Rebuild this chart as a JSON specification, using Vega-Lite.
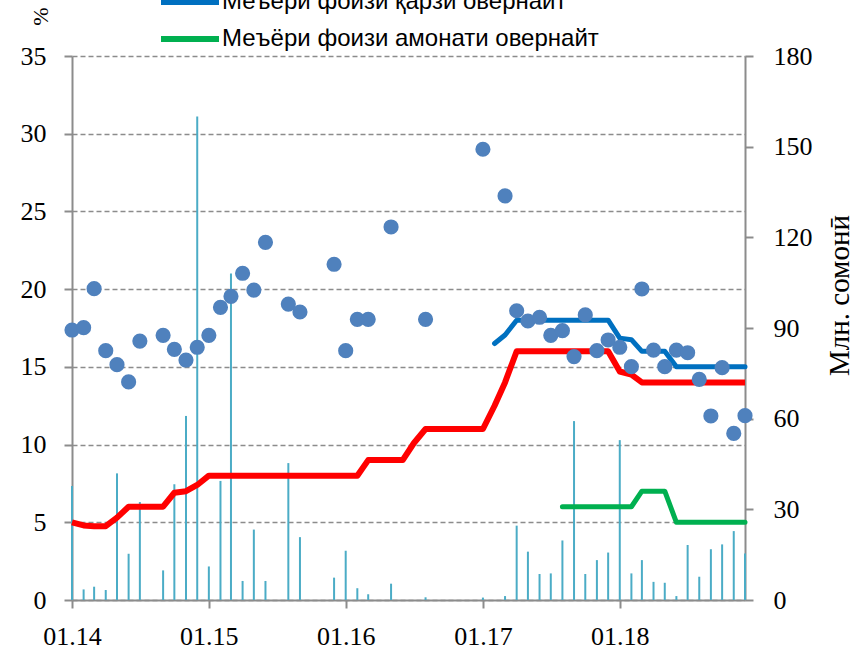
{
  "$schema": "https://vega.github.io/schema/vega-lite/v6.json",
  "autosize": "none",
  "width": 673,
  "height": 544,
  "padding": {"left": 72, "top": 56, "right": 111, "bottom": 52},
  "background": "white",
  "config": {"view": {"stroke": null}, "font": "Liberation Serif"},
  "data": {"values": [
    {"date": "2014-01-01", "rate": 17.37, "vol": 37.7, "refi": 5.0, "loan": null, "dep": null},
    {"date": "2014-02-01", "rate": 17.52, "vol": 3.5, "refi": 4.8, "loan": null, "dep": null},
    {"date": "2014-03-01", "rate": 20.03, "vol": 4.4, "refi": 4.75, "loan": null, "dep": null},
    {"date": "2014-04-01", "rate": 16.04, "vol": 3.3, "refi": 4.75, "loan": null, "dep": null},
    {"date": "2014-05-01", "rate": 15.14, "vol": 41.9, "refi": 5.3, "loan": null, "dep": null},
    {"date": "2014-06-01", "rate": 14.03, "vol": 15.3, "refi": 6.0, "loan": null, "dep": null},
    {"date": "2014-07-01", "rate": 16.66, "vol": 32.4, "refi": 6.0, "loan": null, "dep": null},
    {"date": "2014-08-01", "rate": null, "vol": null, "refi": 6.0, "loan": null, "dep": null},
    {"date": "2014-09-01", "rate": 17.03, "vol": 9.8, "refi": 6.0, "loan": null, "dep": null},
    {"date": "2014-10-01", "rate": 16.13, "vol": 38.3, "refi": 6.9, "loan": null, "dep": null},
    {"date": "2014-11-01", "rate": 15.44, "vol": 60.9, "refi": 7.0, "loan": null, "dep": null},
    {"date": "2014-12-01", "rate": 16.26, "vol": 160.0, "refi": 7.4, "loan": null, "dep": null},
    {"date": "2015-01-01", "rate": 17.03, "vol": 11.1, "refi": 8.0, "loan": null, "dep": null},
    {"date": "2015-02-01", "rate": 18.83, "vol": 39.4, "refi": 8.0, "loan": null, "dep": null},
    {"date": "2015-03-01", "rate": 19.54, "vol": 108.0, "refi": 8.0, "loan": null, "dep": null},
    {"date": "2015-04-01", "rate": 21.02, "vol": 6.3, "refi": 8.0, "loan": null, "dep": null},
    {"date": "2015-05-01", "rate": 19.94, "vol": 23.3, "refi": 8.0, "loan": null, "dep": null},
    {"date": "2015-06-01", "rate": 23.01, "vol": 6.3, "refi": 8.0, "loan": null, "dep": null},
    {"date": "2015-07-01", "rate": null, "vol": null, "refi": 8.0, "loan": null, "dep": null},
    {"date": "2015-08-01", "rate": 19.04, "vol": 45.3, "refi": 8.0, "loan": null, "dep": null},
    {"date": "2015-09-01", "rate": 18.53, "vol": 20.8, "refi": 8.0, "loan": null, "dep": null},
    {"date": "2015-10-01", "rate": null, "vol": null, "refi": 8.0, "loan": null, "dep": null},
    {"date": "2015-11-01", "rate": null, "vol": null, "refi": 8.0, "loan": null, "dep": null},
    {"date": "2015-12-01", "rate": 21.6, "vol": 7.4, "refi": 8.0, "loan": null, "dep": null},
    {"date": "2016-01-01", "rate": 16.04, "vol": 16.3, "refi": 8.0, "loan": null, "dep": null},
    {"date": "2016-02-01", "rate": 18.06, "vol": 3.9, "refi": 8.0, "loan": null, "dep": null},
    {"date": "2016-03-01", "rate": 18.06, "vol": 1.9, "refi": 9.0, "loan": null, "dep": null},
    {"date": "2016-04-01", "rate": null, "vol": null, "refi": 9.0, "loan": null, "dep": null},
    {"date": "2016-05-01", "rate": 24.0, "vol": 5.4, "refi": 9.0, "loan": null, "dep": null},
    {"date": "2016-06-01", "rate": null, "vol": null, "refi": 9.0, "loan": null, "dep": null},
    {"date": "2016-07-01", "rate": null, "vol": null, "refi": 10.1, "loan": null, "dep": null},
    {"date": "2016-08-01", "rate": 18.06, "vol": 0.9, "refi": 11.0, "loan": null, "dep": null},
    {"date": "2016-09-01", "rate": null, "vol": null, "refi": 11.0, "loan": null, "dep": null},
    {"date": "2016-10-01", "rate": null, "vol": null, "refi": 11.0, "loan": null, "dep": null},
    {"date": "2016-11-01", "rate": null, "vol": null, "refi": 11.0, "loan": null, "dep": null},
    {"date": "2016-12-01", "rate": null, "vol": null, "refi": 11.0, "loan": null, "dep": null},
    {"date": "2017-01-01", "rate": 29.0, "vol": 0.8, "refi": 11.0, "loan": null, "dep": null},
    {"date": "2017-02-01", "rate": null, "vol": null, "refi": 12.5, "loan": 16.5, "dep": null},
    {"date": "2017-03-01", "rate": 26.0, "vol": 1.3, "refi": 14.0, "loan": 17.05, "dep": null},
    {"date": "2017-04-01", "rate": 18.61, "vol": 24.6, "refi": 16.0, "loan": 18.0, "dep": null},
    {"date": "2017-05-01", "rate": 17.95, "vol": 16.0, "refi": 16.0, "loan": 18.0, "dep": null},
    {"date": "2017-06-01", "rate": 18.19, "vol": 8.6, "refi": 16.0, "loan": 18.0, "dep": null},
    {"date": "2017-07-01", "rate": 17.03, "vol": 8.8, "refi": 16.0, "loan": 18.0, "dep": null},
    {"date": "2017-08-01", "rate": 17.33, "vol": 19.7, "refi": 16.0, "loan": 18.0, "dep": 6.0},
    {"date": "2017-09-01", "rate": 15.66, "vol": 59.2, "refi": 16.0, "loan": 18.0, "dep": 6.0},
    {"date": "2017-10-01", "rate": 18.34, "vol": 8.6, "refi": 16.0, "loan": 18.0, "dep": 6.0},
    {"date": "2017-11-01", "rate": 16.04, "vol": 13.2, "refi": 16.0, "loan": 18.0, "dep": 6.0},
    {"date": "2017-12-01", "rate": 16.73, "vol": 15.7, "refi": 16.0, "loan": 18.0, "dep": 6.0},
    {"date": "2018-01-01", "rate": 16.26, "vol": 52.9, "refi": 14.7, "loan": 16.85, "dep": 6.0},
    {"date": "2018-02-01", "rate": 15.01, "vol": 8.8, "refi": 14.5, "loan": 16.75, "dep": 6.0},
    {"date": "2018-03-01", "rate": 20.01, "vol": 13.2, "refi": 14.0, "loan": 16.0, "dep": 7.0},
    {"date": "2018-04-01", "rate": 16.08, "vol": 6.0, "refi": 14.0, "loan": 16.0, "dep": 7.0},
    {"date": "2018-05-01", "rate": 15.01, "vol": 5.7, "refi": 14.0, "loan": 16.0, "dep": 7.0},
    {"date": "2018-06-01", "rate": 16.08, "vol": 1.3, "refi": 14.0, "loan": 15.0, "dep": 5.0},
    {"date": "2018-07-01", "rate": 15.91, "vol": 18.2, "refi": 14.0, "loan": 15.0, "dep": 5.0},
    {"date": "2018-08-01", "rate": 14.2, "vol": 7.7, "refi": 14.0, "loan": 15.0, "dep": 5.0},
    {"date": "2018-09-01", "rate": 11.84, "vol": 16.8, "refi": 14.0, "loan": 15.0, "dep": 5.0},
    {"date": "2018-10-01", "rate": 14.95, "vol": 18.4, "refi": 14.0, "loan": 15.0, "dep": 5.0},
    {"date": "2018-11-01", "rate": 10.72, "vol": 22.8, "refi": 14.0, "loan": 15.0, "dep": 5.0},
    {"date": "2018-12-01", "rate": 11.86, "vol": 15.4, "refi": 14.0, "loan": 15.0, "dep": 5.0}
  ]},
  "encoding": {
    "x": {
      "field": "date",
      "type": "temporal",
      "scale": {"type": "utc", "domain": [{"year": 2014, "month": 1, "date": 1, "utc": true}, {"year": 2018, "month": 12, "date": 1, "utc": true}], "nice": false, "padding": 0},
      "axis": {
        "values": [{"year": 2014, "month": 1, "date": 1, "utc": true}, {"year": 2015, "month": 1, "date": 1, "utc": true}, {"year": 2016, "month": 1, "date": 1, "utc": true}, {"year": 2017, "month": 1, "date": 1, "utc": true}, {"year": 2018, "month": 1, "date": 1, "utc": true}],
        "format": "%m.%y",
        "title": null,
        "grid": false,
        "labelFlush": false,
        "labelOverlap": false,
        "labelFont": "Liberation Serif",
        "labelFontSize": 26,
        "labelColor": "#000000",
        "labelPadding": 15,
        "tickSize": 8,
        "tickWidth": 2,
        "tickColor": "#8c8c8c",
        "domainColor": "#8c8c8c",
        "domainWidth": 2
      }
    }
  },
  "layer": [
    {
      "mark": {"type": "bar", "size": 2, "color": "#4bacc6"},
      "encoding": {
        "y": {
          "field": "vol",
          "type": "quantitative",
          "scale": {"domain": [0, 180], "nice": false},
          "axis": {
            "orient": "right",
            "values": [0, 30, 60, 90, 120, 150, 180],
            "grid": false,
            "title": "Млн. сомонӣ",
            "titleAngle": -90,
            "titleX": 94,
            "titleY": 239,
            "titleAlign": "center",
            "titleBaseline": "middle",
            "titleFont": "Liberation Serif",
            "titleFontSize": 29,
            "titleFontWeight": "normal",
            "titleColor": "#000000",
            "labelFont": "Liberation Serif",
            "labelFontSize": 26,
            "labelColor": "#000000",
            "labelPadding": 20,
            "tickSize": 8,
            "tickWidth": 2,
            "tickColor": "#8c8c8c",
            "domainColor": "#8c8c8c",
            "domainWidth": 2
          }
        }
      }
    },
    {
      "layer": [
        {
          "mark": {"type": "line", "color": "#ff0000", "strokeWidth": 6, "strokeJoin": "round"},
          "encoding": {
            "y": {
              "field": "refi",
              "type": "quantitative",
              "title": "%",
              "scale": {"domain": [0, 35], "nice": false},
              "axis": {
                "orient": "left",
                "values": [0, 5, 10, 15, 20, 25, 30, 35],
                "grid": true,
                "gridDash": [5, 3],
                "gridColor": "#8c8c8c",
                "gridWidth": 1.3,
                "titleAngle": -90,
                "titleX": -32,
                "titleY": -40,
                "titleAlign": "center",
                "titleBaseline": "middle",
                "titleFont": "Liberation Serif",
                "titleFontSize": 22,
                "titleFontWeight": "normal",
                "titleColor": "#000000",
                "labelFont": "Liberation Serif",
                "labelFontSize": 26,
                "labelColor": "#000000",
                "labelPadding": 18,
                "tickSize": 8,
                "tickWidth": 2,
                "tickColor": "#8c8c8c",
                "domainColor": "#8c8c8c",
                "domainWidth": 2
              }
            }
          }
        },
        {
          "transform": [{"fold": ["loan", "dep"], "as": ["series", "val"]}],
          "mark": {"type": "line", "strokeWidth": 5, "strokeCap": "round", "strokeJoin": "round"},
          "encoding": {
            "y": {"field": "val", "type": "quantitative", "title": "%"},
            "color": {
              "field": "series",
              "type": "nominal",
              "scale": {"domain": ["loan", "dep"], "range": ["#0070c0", "#00b050"]},
              "legend": {
                "orient": "none",
                "legendX": 86,
                "legendY": -66,
                "direction": "vertical",
                "title": null,
                "symbolType": "stroke",
                "symbolSize": 3364,
                "symbolStrokeWidth": 6,
                "clipHeight": 24,
                "labelFont": "Liberation Sans",
                "labelFontSize": 24,
                "labelColor": "#000000",
                "labelOffset": 0,
                "labelLimit": 0,
                "rowPadding": 13,
                "padding": 0,
                "labelExpr": "datum.label == 'loan' ? 'Меъёри фоизи қарзи овернайт' : 'Меъёри фоизи амонати овернайт'"
              }
            }
          }
        },
        {
          "mark": {"type": "circle", "size": 230, "color": "#4f81bd", "opacity": 1},
          "encoding": {
            "y": {"field": "rate", "type": "quantitative", "title": "%"}
          }
        }
      ]
    }
  ],
  "resolve": {"scale": {"y": "independent"}}
}
